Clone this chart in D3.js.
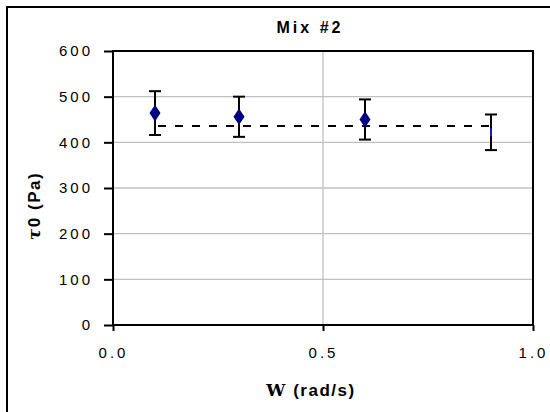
<!DOCTYPE html>
<html>
<head>
<meta charset="utf-8">
<script src="https://cdn.jsdelivr.net/npm/d3@7"></script>
<style>
  html, body { margin: 0; padding: 0; background: #fff; }
  svg { display: block; font-family: "Liberation Sans", Arial, sans-serif; }
</style>
</head>
<body>
<svg id="chart" width="550" height="412"></svg>
<script>
// ---- data ----
const omega = [0.1, 0.3, 0.6, 0.9];
const tau0 = [464, 456, 450, 422];
const errLow = [416, 412, 406, 383];
const errHigh = [512, 500, 494, 461];
const meanLine = [436, 436];
const meanX = [0.1, 0.9];
const yTicks = [0, 100, 200, 300, 400, 500, 600];
const xTicks = [0.0, 0.5, 1.0];
const title = "Mix #2";

// ---- layout ----
const svg = d3.select("#chart");
const L = 113, R = 533, T = 51, B = 325;
const x = d3.scaleLinear().domain([0, 1]).range([L, R]);
const y = d3.scaleLinear().domain([0, 600]).range([B, T]);

// outer frame (left + top visible)
svg.append("rect").attr("x", 7).attr("y", 7).attr("width", 560).attr("height", 420)
  .attr("fill", "none").attr("stroke", "#000").attr("stroke-width", 2);

// grid
svg.append("g").selectAll("line").data(yTicks.filter(d => d > 0 && d < 600)).join("line")
  .attr("x1", L).attr("x2", R).attr("y1", d => y(d)).attr("y2", d => y(d))
  .attr("stroke", "#c0c0c0").attr("stroke-width", 1.3);
svg.append("g").selectAll("line").data(xTicks.filter(d => d > 0 && d < 1)).join("line")
  .attr("y1", T).attr("y2", B).attr("x1", d => x(d)).attr("x2", d => x(d))
  .attr("stroke", "#c0c0c0").attr("stroke-width", 1.3);

// plot border
svg.append("rect").attr("x", L).attr("y", T).attr("width", R - L).attr("height", B - T)
  .attr("fill", "none").attr("stroke", "#000").attr("stroke-width", 2);

// axes
const yAxis = d3.axisLeft(y).tickValues(yTicks).tickFormat(d3.format("d")).tickSize(9).tickPadding(11);
const xAxis = d3.axisBottom(x).tickValues(xTicks).tickFormat(d3.format(".1f")).tickSize(6).tickPadding(16);
const gy = svg.append("g").attr("transform", `translate(${L},0)`).call(yAxis);
const gx = svg.append("g").attr("transform", `translate(0,${B})`).call(xAxis);
[gy, gx].forEach(g => {
  g.select(".domain").remove();
  g.selectAll(".tick line").attr("stroke", "#000").attr("stroke-width", 2);
  g.selectAll(".tick text").attr("fill", "#000").attr("font-size", 15)
    .attr("font-family", "Liberation Sans, Arial, sans-serif").style("letter-spacing", "3px");
});

// dashed line
svg.append("path")
  .attr("d", d3.line().x((d, i) => x(meanX[i])).y(d => y(d))(meanLine))
  .attr("fill", "none").attr("stroke", "#000").attr("stroke-width", 2)
  .attr("stroke-dasharray", "8,9").attr("stroke-dashoffset", -3);

// error bars
const eb = svg.append("g");
omega.forEach((w, i) => {
  eb.append("line").attr("x1", x(w)).attr("x2", x(w)).attr("y1", y(errLow[i])).attr("y2", y(errHigh[i]))
    .attr("stroke", "#000").attr("stroke-width", 2);
  [errLow[i], errHigh[i]].forEach(v => {
    eb.append("line").attr("x1", x(w) - 6).attr("x2", x(w) + 6).attr("y1", y(v)).attr("y2", y(v))
      .attr("stroke", "#000").attr("stroke-width", 2);
  });
});

// markers
const sym = d3.symbol().type(d3.symbolDiamond).size(80);
svg.append("g").selectAll("path").data(omega.slice(0, 3)).join("path")
  .attr("d", sym)
  .attr("transform", (d, i) => `translate(${x(d)},${y(tau0[i])}) scale(1.15,1)`)
  .attr("fill", "#000080");
// last marker is hidden behind its error bar: only a thin sliver shows
svg.append("g").selectAll("rect").data(omega.slice(3)).join("rect")
  .attr("x", d => x(d) - 1).attr("width", 2)
  .attr("y", (d, i) => y(tau0[3 + i]) - 4).attr("height", 8)
  .attr("fill", "#1a1ad0");

// title
svg.append("text").attr("x", 310).attr("y", 33).attr("text-anchor", "middle")
  .attr("font-size", 16).attr("font-weight", "bold").style("letter-spacing", "3px")
  .text(title);

// y axis title
const yt = svg.append("text").attr("transform", `translate(40,${(T + B) / 2 + 18}) rotate(-90)`)
  .attr("text-anchor", "middle").attr("font-size", 17).attr("font-weight", "bold")
  .style("letter-spacing", "1.5px");
yt.append("tspan").attr("font-family", "DejaVu Serif, serif").attr("font-style", "italic").text("τ");
yt.append("tspan").text("0 (Pa)");

// x axis title
const xt = svg.append("text").attr("x", 311).attr("y", 396).attr("text-anchor", "middle")
  .attr("font-size", 17).attr("font-weight", "bold").style("letter-spacing", "1.5px");
xt.append("tspan").attr("font-family", "DejaVu Serif, serif").text("W");
xt.append("tspan").text(" (rad/s)");
</script>
</body>
</html>
